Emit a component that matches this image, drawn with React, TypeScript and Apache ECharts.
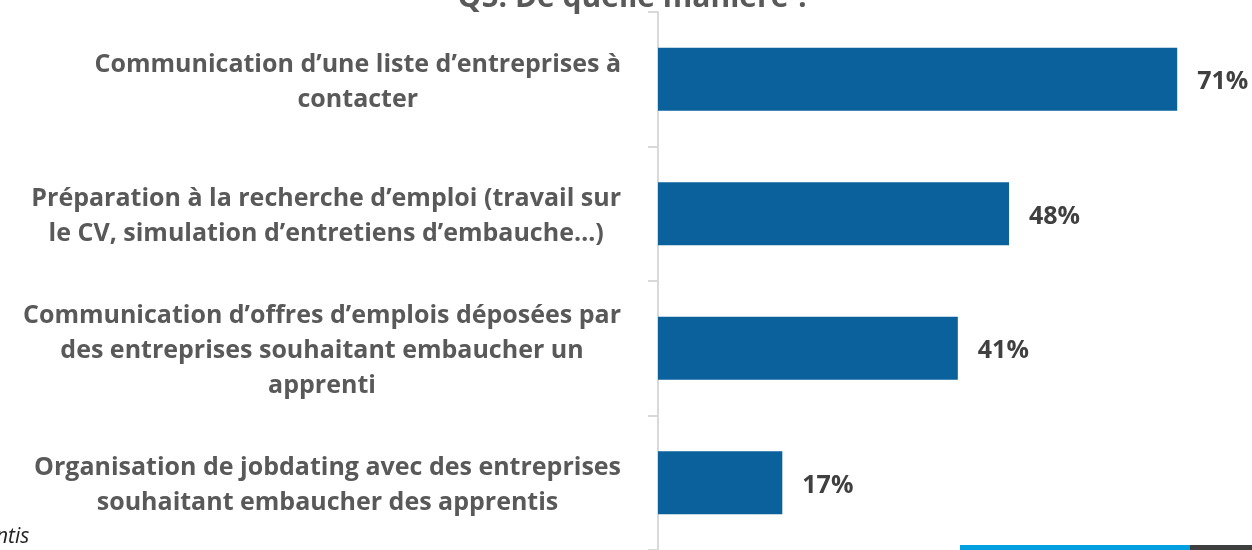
import React, { useEffect, useRef } from "react";
import * as echarts from "echarts";

const categories: string[][] = [
  ["Communication d’une liste d’entreprises à", "contacter"],
  ["Préparation à la recherche d’emploi (travail sur", "le CV, simulation d’entretiens d’embauche…)"],
  ["Communication d’offres d’emplois déposées par", "des entreprises souhaitant embaucher un", "apprenti"],
  ["Organisation de jobdating avec des entreprises", "souhaitant embaucher des apprentis"],
];
const values: number[] = [71, 48, 41, 17];
const titleText = "Q5. De quelle manière ?";
const sourceText = "Source : Anaf, enquête apprentis";

export default function App() {
  const ref = useRef<HTMLDivElement>(null);
  useEffect(() => {
    document.body.style.margin = "0";
    const chart = echarts.init(ref.current!, null, { renderer: "svg" });
    const font = "'Open Sans', 'Noto Sans', sans-serif";
    chart.setOption({
      animation: false,
      title: {
        text: titleText,
        left: 629,
        top: -25,
        textAlign: "center",
        textStyle: { fontFamily: font, fontWeight: 700, fontSize: 30, color: "#595959" },
      },
      grid: { left: 658, top: 12, width: 585, bottom: -5, containLabel: false },
      xAxis: {
        type: "value",
        min: 0,
        max: 80,
        show: false,
      },
      yAxis: {
        type: "category",
        inverse: true,
        data: categories.map((c) => c.join("\n")),
        axisLine: { show: true, lineStyle: { color: "#d9d9d9", width: 2 } },
        axisTick: { show: true, length: 10, lineStyle: { color: "#d9d9d9", width: 2 } },
        axisLabel: {
          margin: 37,
          align: "right",
          formatter: (v: string) => v.split("\n").map((l) => `{c|${l}}`).join("\n"),
          rich: {
            c: {
              align: "center",
              fontFamily: font,
              fontWeight: 700,
              fontSize: 25,
              lineHeight: 35,
              color: "#595959",
            },
          },
        },
      },
      series: [
        {
          type: "bar",
          data: values,
          barWidth: 63,
          itemStyle: { color: "#0b619c" },
          label: {
            show: true,
            position: "right",
            distance: 20,
            formatter: "{c}%",
            fontFamily: font,
            fontWeight: 700,
            fontSize: 25,
            color: "#404040",
          },
        },
      ],
      graphic: [
        {
          type: "text",
          left: -271,
          top: 524,
          style: {
            text: sourceText,
            font: "italic 21px 'Open Sans', 'Noto Sans', sans-serif",
            fill: "#222222",
          },
        },
        { type: "rect", shape: { x: 960, y: 545, width: 230, height: 5 }, style: { fill: "#00a0e0" } },
        { type: "rect", shape: { x: 1190, y: 545, width: 62, height: 5 }, style: { fill: "#3f3f3f" } },
      ],
    });
    return () => chart.dispose();
  }, []);
  return <div ref={ref} style={{ position: "fixed", left: 0, top: 0, width: 1252, height: 550 }} />;
}
